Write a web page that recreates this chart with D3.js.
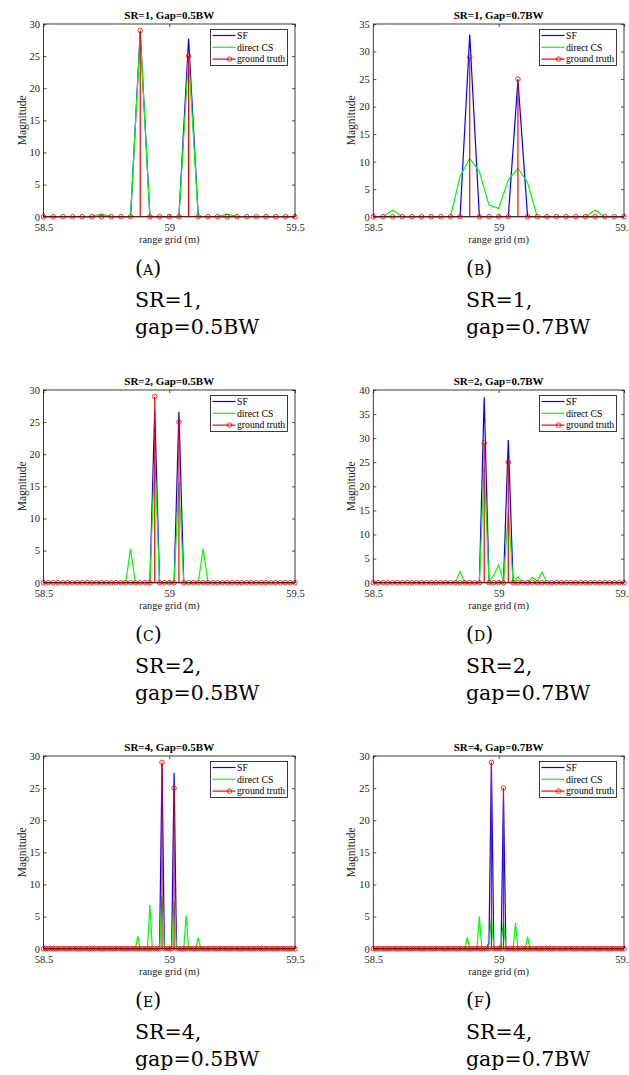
<!DOCTYPE html>
<html>
<head>
<meta charset="utf-8">
<script src="https://cdn.jsdelivr.net/npm/d3@7"></script>
<style>
  body { margin: 0; background: #fff; }
  svg { display: block; }
</style>
</head>
<body>
<svg width="629" height="1075"></svg>
<script>
// range grid, same for every panel
const xDomain = [58.5, 59.5];
const xTicks = [58.5, 59, 59.5];
const gridCount = [27, 27, 53, 53, 105, 105];
const yMax = [30, 35, 30, 40, 30, 30];

const titles = ["SR=1, Gap=0.5BW", "SR=1, Gap=0.7BW", "SR=2, Gap=0.5BW",
                "SR=2, Gap=0.7BW", "SR=4, Gap=0.5BW", "SR=4, Gap=0.7BW"];
const letters = ["A", "B", "C", "D", "E", "F"];
const captionSR = ["SR=1,", "SR=1,", "SR=2,", "SR=2,", "SR=4,", "SR=4,"];
const captionGap = ["gap=0.5BW", "gap=0.7BW", "gap=0.5BW", "gap=0.7BW", "gap=0.5BW", "gap=0.7BW"];
const legendLabels = ["SF", "direct CS", "ground truth"];

// non-zero entries [grid index, magnitude]; everything else is 0
const sfValues = [
  [[6, 0.1], [10, 28.8], [15, 27.7]],
  [[10, 33.1], [15, 24.8]],
  [[23, 27.0], [28, 26.6]],
  [[23, 38.5], [28, 29.6]],
  [[49, 28.8], [54, 27.4]],
  [[48, 1.0], [49, 29.0], [54, 23.9]]
];
const csValues = [
  [[6, 0.4], [10, 28.5], [15, 25.0], [19, 0.4]],
  [[2, 1.2], [9, 7.3], [10, 10.6], [11, 8.2], [12, 2.1], [13, 1.5], [14, 6.7], [15, 8.8], [16, 6.2], [23, 1.2]],
  [[18, 5.3], [23, 19.9], [28, 15.7], [33, 5.3]],
  [[18, 2.3], [23, 24.0], [25, 1.6], [26, 3.7], [28, 14.5], [30, 1.25], [33, 1.1], [34, 0.3], [35, 2.2]],
  [[39, 2.0], [44, 6.8], [49, 8.2], [54, 7.4], [59, 5.2], [64, 1.7]],
  [[39, 1.8], [44, 5.0], [48, 0.6], [49, 4.8], [53, 0.8], [54, 4.2], [59, 4.0], [64, 1.9]]
];
const truthValues = [
  [[10, 29], [15, 25]],
  [[10, 29], [15, 25]],
  [[23, 29], [28, 25]],
  [[23, 29], [28, 25]],
  [[49, 29], [54, 25]],
  [[49, 29], [54, 25]]
];

const colors = {sf: "#0000ff", cs: "#00ff00", gt: "#ff0000"};
const axisColor = "#262626";
const serif = "'Liberation Serif', 'Times New Roman', serif";
const captionFont = "'DejaVu Serif', serif";

const cols = [{x0: 43.5, x1: 295, cap: 135}, {x0: 373.3, x1: 624, cap: 466}];
const rowTops = [24, 390, 756];
const plotH = 192.7;

const svg = d3.select("svg");

function fullSeries(n, entries) {
  let v = new Array(n).fill(0);
  entries.forEach(([i, m]) => { v[i] = m; });
  return v;
}

titles.forEach((title, p) => {
  let col = cols[p % 2];
  let top = rowTops[Math.floor(p / 2)];
  let bottom = top + plotH;
  let n = gridCount[p];

  let x = d3.scaleLinear().domain(xDomain).range([col.x0, col.x1]);
  let y = d3.scaleLinear().domain([0, yMax[p]]).range([bottom, top]);
  let grid = d3.range(n).map(i => xDomain[0] + i * (xDomain[1] - xDomain[0]) / (n - 1));

  let g = svg.append("g");

  // axes, ticks pointing inward on all four sides
  let bx = g.append("g").attr("transform", "translate(0," + bottom + ")")
    .call(d3.axisBottom(x).tickValues(xTicks).tickFormat(d3.format("")).tickSize(-3).tickPadding(6.5));
  let tx = g.append("g").attr("transform", "translate(0," + top + ")")
    .call(d3.axisTop(x).tickValues(xTicks).tickFormat("").tickSize(-3));
  let ly = g.append("g").attr("transform", "translate(" + col.x0 + ",0)")
    .call(d3.axisLeft(y).ticks(yMax[p] / 5).tickSize(-3).tickPadding(3.5));
  let ry = g.append("g").attr("transform", "translate(" + col.x1 + ",0)")
    .call(d3.axisRight(y).ticks(yMax[p] / 5).tickFormat("").tickSize(-3));
  [bx, tx, ly, ry].forEach(a => {
    a.select(".domain").remove();
    a.selectAll("line").attr("stroke", axisColor).attr("stroke-width", 0.8);
    a.selectAll("text").attr("fill", axisColor).style("font-family", serif).style("font-size", "10.5px");
  });

  let line = d3.line().x(d => x(d[0])).y(d => y(d[1]));

  // SF and direct CS
  [["sf", sfValues[p]], ["cs", csValues[p]]].forEach(([key, entries]) => {
    let v = fullSeries(n, entries);
    g.append("path")
      .datum(grid.map((gx, i) => [gx, v[i]]))
      .attr("fill", "none")
      .attr("stroke", colors[key])
      .attr("stroke-width", 1.2)
      .attr("d", line);
  });

  // ground truth: spikes on the grid, circles at every grid sample
  let gt = fullSeries(n, truthValues[p]);
  let gtPath = [];
  grid.forEach((gx, i) => {
    if (gt[i] > 0) gtPath.push([gx, 0], [gx, gt[i]], [gx, 0]);
    else gtPath.push([gx, 0]);
  });
  g.append("path")
    .datum(gtPath)
    .attr("fill", "none")
    .attr("stroke", colors.gt)
    .attr("stroke-width", 1.2)
    .attr("d", line);
  g.selectAll(".gt")
    .data(grid.map((gx, i) => [gx, gt[i]]))
    .enter().append("circle")
      .attr("class", "gt")
      .attr("cx", d => x(d[0]))
      .attr("cy", d => y(d[1]))
      .attr("r", 2.3)
      .attr("fill", "none")
      .attr("stroke", colors.gt)
      .attr("stroke-width", 0.8);

  // frame
  g.append("rect")
    .attr("x", col.x0).attr("y", top)
    .attr("width", col.x1 - col.x0).attr("height", plotH)
    .attr("fill", "none").attr("stroke", axisColor).attr("stroke-width", 0.9);

  // title and labels
  let cx = (col.x0 + col.x1) / 2;
  g.append("text")
    .attr("x", cx).attr("y", top - 5)
    .attr("text-anchor", "middle")
    .style("font-family", serif).style("font-size", "11px").style("font-weight", "bold")
    .attr("fill", "#000")
    .text(title);
  g.append("text")
    .attr("x", cx).attr("y", bottom + 26.5)
    .attr("text-anchor", "middle")
    .style("font-family", serif).style("font-size", "10.5px")
    .attr("fill", axisColor)
    .text("range grid (m)");
  g.append("text")
    .attr("transform", "translate(" + (col.x0 - 22) + "," + (top + plotH / 2) + ") rotate(-90)")
    .attr("text-anchor", "middle")
    .attr("dy", "0.35em")
    .style("font-family", serif).style("font-size", "11.5px")
    .attr("fill", axisColor)
    .text("Magnitude");

  // legend
  let lx = col.x1 - 84.5, ly0 = top + 5.5;
  let leg = g.append("g");
  leg.append("rect")
    .attr("x", lx).attr("y", ly0).attr("width", 77).attr("height", 36)
    .attr("fill", "#fff").attr("stroke", axisColor).attr("stroke-width", 0.9);
  legendLabels.forEach((label, i) => {
    let ry0 = ly0 + 6 + i * 11.8;
    let key = ["sf", "cs", "gt"][i];
    leg.append("line")
      .attr("x1", lx + 2).attr("x2", lx + 25).attr("y1", ry0).attr("y2", ry0)
      .attr("stroke", colors[key]).attr("stroke-width", 1.2);
    if (key === "gt") {
      leg.append("circle")
        .attr("cx", lx + 19).attr("cy", ry0).attr("r", 2.3)
        .attr("fill", "none").attr("stroke", colors.gt).attr("stroke-width", 0.8);
    }
    leg.append("text")
      .attr("x", lx + 26.5).attr("y", ry0).attr("dy", "0.33em")
      .style("font-family", serif).style("font-size", "9.7px")
      .attr("fill", "#000")
      .text(label);
  });

  // sub-figure caption
  let cap = svg.append("g").style("font-family", captionFont).attr("fill", "#000");
  let t = cap.append("text").attr("x", col.cap).attr("y", top + 251).style("font-size", "20.5px");
  t.append("tspan").text("(");
  t.append("tspan").style("font-size", "14px").text(letters[p]);
  t.append("tspan").text(")");
  cap.append("text").attr("x", col.cap).attr("y", top + 282.7).style("font-size", "20.5px").text(captionSR[p]);
  cap.append("text").attr("x", col.cap).attr("y", top + 310.3).style("font-size", "20.5px").text(captionGap[p]);
});
</script>
</body>
</html>
